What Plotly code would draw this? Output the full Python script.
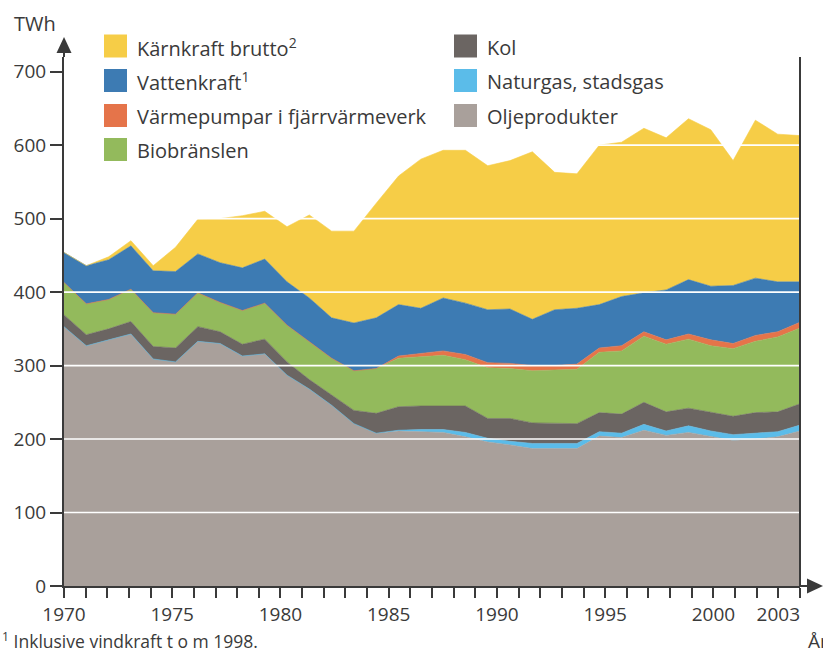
import plotly.graph_objects as go

# ---------------- data (TWh) ----------------
years = list(range(1970, 2004))

oljeprodukter = [353, 327, 335, 343, 309, 305, 333, 330, 313, 316,
                 287, 268, 246, 221, 208, 211, 210, 209, 203, 196,
                 192, 187, 187, 187, 204, 202, 212, 205, 209, 203,
                 198, 200, 203, 211]
naturgas = [0, 0, 0, 0, 0, 0, 0, 0, 0, 0,
            0, 0, 0, 0, 0, 1, 3, 4, 6, 5,
            5, 7, 7, 7, 6, 6, 8, 6, 9, 8,
            8, 8, 7, 8]
kol = [16, 15, 15, 17, 17, 19, 20, 16, 16, 20,
       18, 13, 14, 18, 27, 32, 32, 32, 36, 27,
       31, 28, 27, 27, 26, 26, 30, 26, 24, 25,
       25, 28, 27, 29]
biobransle = [44, 42, 40, 44, 46, 46, 46, 40, 46, 49,
              50, 52, 50, 54, 61, 66, 67, 69, 63, 69,
              68, 71, 73, 74, 82, 86, 90, 92, 94, 91,
              92, 97, 102, 103]
varmepumpar = [0, 0, 0, 0, 0, 0, 0, 0, 0, 0,
               0, 0, 0, 0, 0, 3, 5, 6, 7, 7,
               7, 7, 6, 7, 6, 7, 6, 6, 7, 8,
               7, 8, 7, 8]
vattenkraft = [41, 52, 54, 59, 57, 58, 53, 54, 58, 60,
               59, 59, 55, 65, 69, 70, 61, 72, 70, 72,
               74, 63, 76, 76, 59, 67, 53, 68, 74, 73,
               79, 78, 68, 55]
karnkraft = [0, 0, 4, 7, 7, 33, 47, 60, 71, 65,
             75, 113, 118, 125, 156, 175, 203, 201, 208, 196,
             202, 228, 187, 183, 217, 210, 224, 207, 219, 213,
             170, 215, 201, 199]

axis_years = list(range(1970, 2005))
labelled_years = [1970, 1975, 1980, 1985, 1990, 1995, 2000, 2003]
y_ticks = [0, 100, 200, 300, 400, 500, 600, 700]

# (name, values, colour, legend column, legend row) -- bottom of stack first
series = [
    ("Oljeprodukter", oljeprodukter, "#a9a09b", 1, 2),
    ("Naturgas, stadsgas", naturgas, "#5bbce9", 1, 1),
    ("Kol", kol, "#6b6562", 1, 0),
    ("Biobränslen", biobransle, "#93ba5c", 0, 3),
    ("Värmepumpar i fjärrvärmeverk", varmepumpar, "#e5744a", 0, 2),
    ("Vattenkraft<sup>1</sup>", vattenkraft, "#3d7bb3", 0, 1),
    ("Kärnkraft brutto<sup>2</sup>", karnkraft, "#f6cd47", 0, 0),
]

TEXT = "#3a3a3a"
FONT = "Open Sans"

W_FIG, H_FIG = 823, 652
ML, MR, MT, MB = 64, 23, 57, 66
PW = W_FIG - ML - MR
PH = H_FIG - MT - MB


def px(xp):
    return (xp - ML) / PW


def py(yp):
    return (MT + PH - yp) / PH


fig = go.Figure()
for name, vals, col, _, _ in series:
    fig.add_trace(go.Scatter(
        x=years, y=vals, name=name, stackgroup="one", mode="lines",
        line=dict(width=0.6, color=col), fillcolor=col, showlegend=False,
        hoverinfo="x+y+name",
    ))
# carrier for the year tick axis (draws nothing)
fig.add_trace(go.Scatter(x=axis_years, y=[None] * len(axis_years), xaxis="x2", yaxis="y",
                         mode="lines", showlegend=False, hoverinfo="skip"))

shapes = []
# white grid lines drawn over the areas
for v in y_ticks[1:]:
    shapes.append(dict(type="line", xref="paper", yref="y", x0=0, x1=1, y0=v, y1=v,
                       line=dict(color="white", width=1.6), layer="above"))
# right frame line
shapes.append(dict(type="line", xref="paper", yref="paper", x0=1, x1=1, y0=0, y1=1,
                   line=dict(color=TEXT, width=2), layer="above"))
# y-axis extension + arrow
shapes.append(dict(type="line", xref="paper", yref="paper", x0=0, x1=0, y0=1, y1=py(50),
                   line=dict(color=TEXT, width=2), layer="above"))
shapes.append(dict(type="path", xref="paper", yref="paper",
                   path=f"M {px(56.5)} {py(53)} L {px(71.5)} {py(53)} L {px(64)} {py(37)} Z",
                   fillcolor=TEXT, line=dict(width=0), layer="above"))
# x-axis extension + arrow
shapes.append(dict(type="line", xref="paper", yref="paper", x0=1, x1=px(810), y0=0, y1=0,
                   line=dict(color=TEXT, width=2), layer="above"))
shapes.append(dict(type="path", xref="paper", yref="paper",
                   path=f"M {px(807)} {py(578.5)} L {px(807)} {py(593.5)} L {px(823)} {py(586)} Z",
                   fillcolor=TEXT, line=dict(width=0), layer="above"))

annotations = []
# manual legend: two columns
col_sq_x = [104, 454]
col_txt_x = [135, 485]
row_cy = [46, 80.5, 115.5, 149.5]
for name, vals, col, c, r in series:
    cy = row_cy[r]
    shapes.append(dict(type="rect", xref="paper", yref="paper",
                       x0=px(col_sq_x[c]), x1=px(col_sq_x[c] + 23),
                       y0=py(cy + 11.5), y1=py(cy - 11.5),
                       fillcolor=col, line=dict(width=0)))
    annotations.append(dict(text=name, xref="paper", yref="paper",
                            x=px(col_txt_x[c]), y=py(cy + 1), xanchor="left", yanchor="middle",
                            showarrow=False, font=dict(family=FONT, size=20, color=TEXT)))

annotations.append(dict(text="TWh", xref="paper", yref="paper", x=px(12), y=py(23),
                        xanchor="left", yanchor="middle", showarrow=False,
                        font=dict(family=FONT, size=20, color=TEXT)))
annotations.append(dict(text="År", xref="paper", yref="paper", x=px(806), y=py(641),
                        xanchor="left", yanchor="middle", showarrow=False,
                        font=dict(family=FONT, size=19, color=TEXT)))
annotations.append(dict(text="<sup>1</sup> Inklusive vindkraft t o m 1998.", xref="paper", yref="paper",
                        x=px(0), y=py(641), xanchor="left", yanchor="middle", showarrow=False,
                        font=dict(family=FONT, size=17.5, color=TEXT)))

fig.update_layout(
    width=W_FIG, height=H_FIG,
    margin=dict(l=ML, r=MR, t=MT, b=MB, pad=0),
    paper_bgcolor="white", plot_bgcolor="white",
    font=dict(family=FONT, color=TEXT),
    shapes=shapes, annotations=annotations,
    showlegend=False,
    xaxis=dict(range=[years[0], years[-1]], showgrid=False, zeroline=False,
               showticklabels=False, ticks="", showline=False, fixedrange=True),
    xaxis2=dict(overlaying="x", anchor="y", side="bottom",
                range=[axis_years[0], axis_years[-1]],
                tickmode="array", tickvals=axis_years,
                ticktext=[str(y) if y in labelled_years else "" for y in axis_years],
                ticks="outside", ticklen=10, tickwidth=1.5, tickcolor=TEXT,
                showline=True, linecolor=TEXT, linewidth=2, showgrid=False, zeroline=False,
                tickfont=dict(family=FONT, size=19, color=TEXT), layer="above traces"),
    yaxis=dict(range=[0, 720], tickmode="array", tickvals=y_ticks,
               ticks="outside", ticklen=12, tickwidth=1.5, tickcolor=TEXT,
               showline=True, linecolor=TEXT, linewidth=2, showgrid=False, zeroline=False,
               tickfont=dict(family=FONT, size=19, color=TEXT), layer="above traces"),
)

fig.write_html("out.html", config={"displayModeBar": False},
               post_script="document.body.style.margin='0px';")
